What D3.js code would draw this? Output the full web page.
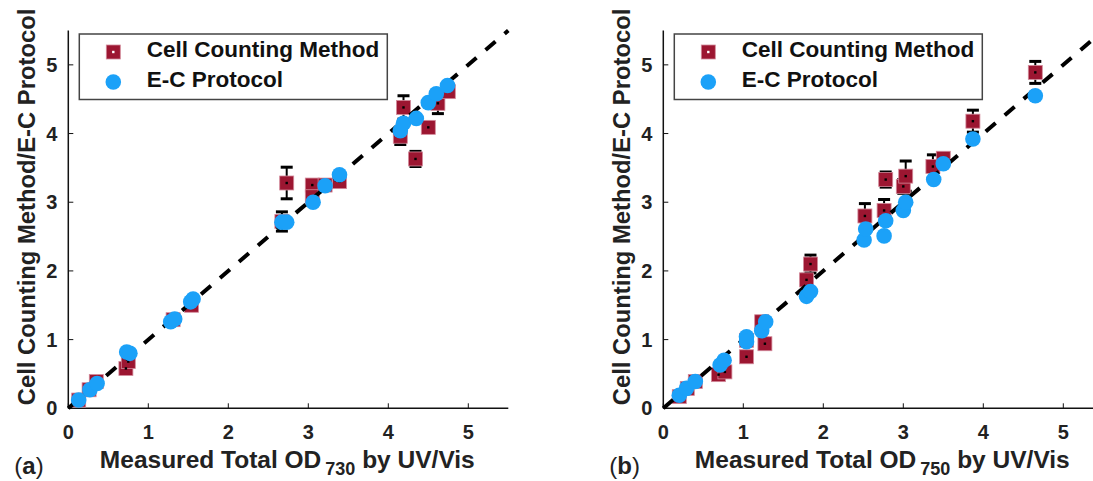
<!DOCTYPE html>
<meta charset="utf-8">
<style>
body { margin: 0; background: #fff; }
svg { display: block; font-family: "Liberation Sans", Arial, sans-serif; }
.tick-label { font-size: 20px; font-weight: bold; fill: #222; }
.axis-title { font-size: 24.5px; font-weight: bold; fill: #222; }
.legend-text { font-size: 22.5px; font-weight: bold; fill: #111; }
</style>
<body>
<script src="https://cdn.jsdelivr.net/npm/d3@7"></script>
<script>

// panel (a): OD730
var cellXA = [0.13, 0.26, 0.35, 0.72, 0.75, 1.31, 1.54, 2.73, 2.67, 3.05, 3.05, 3.21, 3.39, 4.15, 4.19, 4.34, 4.50, 4.62, 4.75];
var cellYA = [0.12, 0.27, 0.39, 0.58, 0.68, 1.29, 1.50, 3.28, 2.72, 3.25, 3.08, 3.25, 3.30, 3.96, 4.38, 3.63, 4.09, 4.44, 4.61];
var cellErrA = [0, 0, 0, 0.05, 0, 0, 0, 0.23, 0.14, 0.05, 0.12, 0, 0, 0.12, 0.17, 0.11, 0.05, 0.15, 0.05];
var ecXA = [0.13, 0.27, 0.36, 0.73, 0.77, 1.28, 1.33, 1.53, 1.56, 2.67, 2.73, 3.06, 3.21, 3.39, 4.15, 4.19, 4.35, 4.50, 4.60, 4.74];
var ecYA = [0.12, 0.27, 0.36, 0.82, 0.80, 1.26, 1.30, 1.55, 1.59, 2.71, 2.71, 3.00, 3.24, 3.40, 4.04, 4.15, 4.22, 4.45, 4.58, 4.70];

// panel (b): OD750
var cellXB = [0.20, 0.30, 0.40, 0.69, 0.77, 1.04, 1.04, 1.27, 1.23, 1.79, 1.84, 2.52, 2.76, 2.78, 3.00, 3.03, 3.37, 3.50, 3.87, 4.65];
var cellYB = [0.17, 0.29, 0.39, 0.49, 0.53, 0.75, 0.99, 0.94, 1.26, 1.87, 2.10, 2.80, 2.88, 3.33, 3.23, 3.38, 3.52, 3.64, 4.18, 4.89];
var cellErrB = [0, 0, 0, 0, 0, 0.05, 0, 0.05, 0, 0.08, 0.13, 0.18, 0.16, 0.11, 0.1, 0.22, 0.17, 0, 0.16, 0.16];
var ecXB = [0.20, 0.29, 0.40, 0.71, 0.76, 1.04, 1.04, 1.23, 1.28, 1.79, 1.84, 2.51, 2.53, 2.76, 2.78, 3.00, 3.03, 3.38, 3.50, 3.87, 4.65];
var ecYB = [0.19, 0.29, 0.39, 0.63, 0.70, 1.04, 0.97, 1.13, 1.26, 1.63, 1.70, 2.45, 2.61, 2.51, 2.73, 2.88, 3.00, 3.33, 3.56, 3.92, 4.55];

var ticks = [0, 1, 2, 3, 4, 5];
var seriesNames = ["Cell Counting Method", "E-C Protocol"];

var red = "#9c1631", blue = "#1ba1f8";

var svg = d3.select("body").append("svg")
    .attr("width", 1093)
    .attr("height", 481);

function panel(left, cx, cy, cerr, ex, ey, letter, sub) {
  var x = d3.scaleLinear().domain([0, 5.5]).range([left, left + 440]);
  var y = d3.scaleLinear().domain([0, 5.5]).range([408.3, 30.5]);
  var g = svg.append("g");

  // axes
  g.append("line").attr("x1", x(0)).attr("x2", x(5.5)).attr("y1", y(0)).attr("y2", y(0))
      .attr("stroke", "#111").attr("stroke-width", 1.5);
  g.append("line").attr("x1", x(0)).attr("x2", x(0)).attr("y1", y(0)).attr("y2", y(5.5))
      .attr("stroke", "#111").attr("stroke-width", 1.5);

  g.selectAll(".xt").data(ticks).enter().append("line")
      .attr("x1", x).attr("x2", x).attr("y1", y(0)).attr("y2", y(0) - 5)
      .attr("stroke", "#111");
  g.selectAll(".yt").data(ticks).enter().append("line")
      .attr("y1", y).attr("y2", y).attr("x1", x(0)).attr("x2", x(0) + 5)
      .attr("stroke", "#111");

  g.selectAll(".xl").data(ticks).enter().append("text")
      .attr("class", "tick-label")
      .attr("x", x).attr("y", 439)
      .attr("text-anchor", "middle")
      .text(function(d) { return d; });
  g.selectAll(".yl").data(ticks).enter().append("text")
      .attr("class", "tick-label")
      .attr("x", x(0) - 11).attr("y", function(d) { return y(d) + 7; })
      .attr("text-anchor", "end")
      .text(function(d) { return d; });

  // axis titles
  var xt = g.append("text")
      .attr("class", "axis-title")
      .attr("x", x(0) + 219).attr("y", 468)
      .attr("text-anchor", "middle");
  xt.append("tspan").text("Measured Total OD");
  xt.append("tspan").attr("dy", 7).attr("dx", 4).style("font-size", "18px").text(sub);
  xt.append("tspan").attr("dy", -7).text(" by UV/Vis");

  g.append("text")
      .attr("class", "axis-title")
      .style("font-size", "23.8px")
      .attr("transform", "translate(" + (x(0) - 33) + ",207) rotate(-90)")
      .attr("text-anchor", "middle")
      .text("Cell Counting Method/E-C Protocol");

  var lab = g.append("text")
      .attr("x", x(0) - 54).attr("y", 474)
      .style("font-size", "24px").style("fill", "#222");
  lab.append("tspan").text("(");
  lab.append("tspan").style("font-weight", "bold").text(letter);
  lab.append("tspan").text(")");

  // cell counting squares with error bars
  var cell = cx.map(function(v, i) { return { x: v, y: cy[i], e: cerr[i] }; });
  var eb = g.selectAll(".eb").data(cell.filter(function(d) { return d.e > 0; })).enter().append("g");
  eb.append("line")
      .attr("x1", function(d) { return x(d.x); }).attr("x2", function(d) { return x(d.x); })
      .attr("y1", function(d) { return y(d.y - d.e); }).attr("y2", function(d) { return y(d.y + d.e); })
      .attr("stroke", "#000").attr("stroke-width", 2);
  [-1, 1].forEach(function(s) {
    eb.append("line")
        .attr("x1", function(d) { return x(d.x) - 6; }).attr("x2", function(d) { return x(d.x) + 6; })
        .attr("y1", function(d) { return y(d.y + s * d.e); }).attr("y2", function(d) { return y(d.y + s * d.e); })
        .attr("stroke", "#000").attr("stroke-width", 3);
  });

  g.selectAll(".sq").data(cell).enter().append("rect")
      .attr("x", function(d) { return x(d.x) - 7; })
      .attr("y", function(d) { return y(d.y) - 7; })
      .attr("width", 14).attr("height", 14)
      .attr("fill", red).attr("stroke", "#d38a9b").attr("stroke-width", 0.8);
  g.selectAll(".dot").data(cell).enter().append("rect")
      .attr("x", function(d) { return x(d.x) - 1.2; })
      .attr("y", function(d) { return y(d.y) - 1.2; })
      .attr("width", 2.4).attr("height", 2.4)
      .attr("fill", "#000");

  // 1:1 line
  g.append("line")
      .attr("x1", x(0)).attr("y1", y(0)).attr("x2", x(5.5)).attr("y2", y(5.5))
      .attr("stroke", "#000").attr("stroke-width", 4).attr("stroke-dasharray", "13,12");

  // E-C protocol circles
  g.selectAll(".ec").data(ex.map(function(v, i) { return [v, ey[i]]; })).enter().append("circle")
      .attr("cx", function(d) { return x(d[0]); })
      .attr("cy", function(d) { return y(d[1]); })
      .attr("r", 7.8)
      .attr("fill", blue);

  // legend
  var bx = x(0) + 11;
  g.append("rect")
      .attr("x", bx).attr("y", 34).attr("width", 308).attr("height", 65.5)
      .attr("fill", "#fff").attr("stroke", "#444").attr("stroke-width", 1.5);
  g.append("rect")
      .attr("x", bx + 34 - 7).attr("y", 52 - 7).attr("width", 14).attr("height", 14)
      .attr("fill", red).attr("stroke", "#d38a9b").attr("stroke-width", 0.8);
  g.append("rect")
      .attr("x", bx + 34 - 1.2).attr("y", 52 - 1.2).attr("width", 2.4).attr("height", 2.4)
      .attr("fill", "#fff");
  g.append("circle")
      .attr("cx", bx + 34).attr("cy", 82).attr("r", 7.8).attr("fill", blue);
  g.selectAll(".lt").data(seriesNames).enter().append("text")
      .attr("class", "legend-text")
      .attr("x", bx + 67.5)
      .attr("y", function(d, i) { return 56.5 + i * 30.5; })
      .text(function(d) { return d; });
}

panel(68.3, cellXA, cellYA, cellErrA, ecXA, ecYA, "a", "730");
panel(663.3, cellXB, cellYB, cellErrB, ecXB, ecYB, "b", "750");

</script>
</body>
